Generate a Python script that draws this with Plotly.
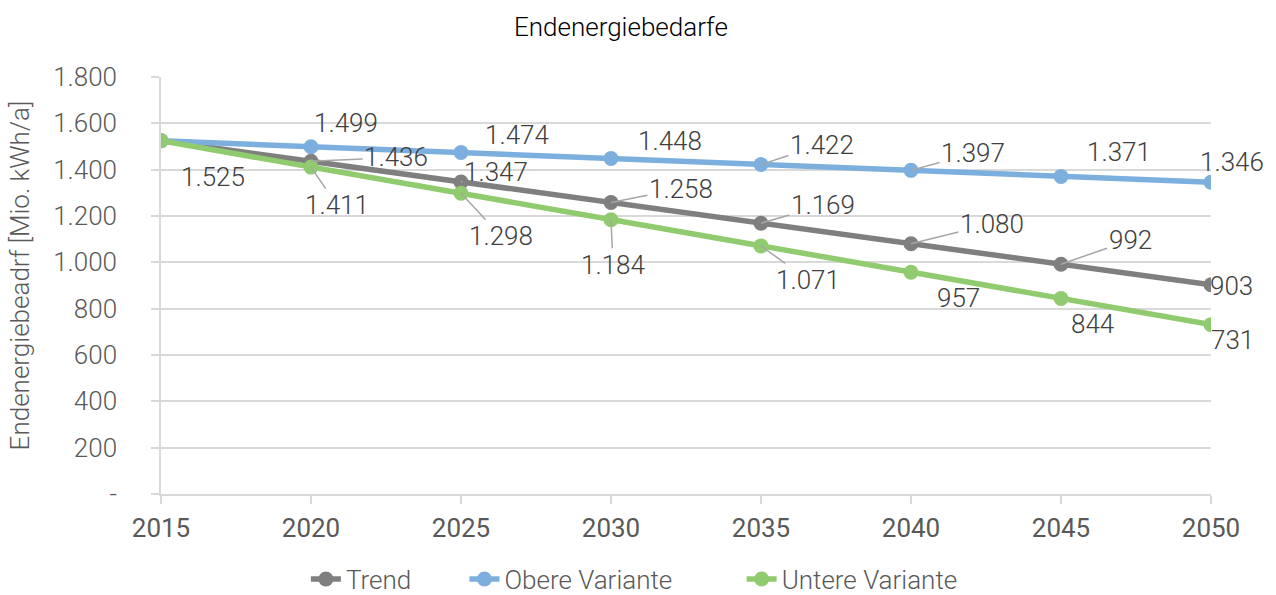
import plotly.graph_objects as go

years = ['2015', '2020', '2025', '2030', '2035', '2040', '2045', '2050']
trend = [1525, 1436, 1347, 1258, 1169, 1080, 992, 903]
obere = [1525, 1499, 1474, 1448, 1422, 1397, 1371, 1346]
untere = [1525, 1411, 1298, 1184, 1071, 957, 844, 731]
y_ticks = [0, 200, 400, 600, 800, 1000, 1200, 1400, 1600, 1800]
y_ticktext = ['-' if v == 0 else f'{v:,}'.replace(',', '.') for v in y_ticks]

names = ['Trend', 'Obere Variante', 'Untere Variante']
colors = ['#7f7f7f', '#7cafdd', '#91cb6f']
legend_x = [0.138, 0.289, 0.553]

# label offsets in px (dx, dy, leader line?) — None means no label
label_pos = {
    'Trend': [(52, 36, False), (85, -4, True), (35, -10, True), (70, -14, True),
              (62, -18, True), (81, -20, True), (69, -24, True), (20, 1, False)],
    'Obere Variante': [None, (35, -24, False), (56, -18, False), (59, -18, False),
                       (61, -20, True), (62, -17, True), (58, -24, False), (21, -20, False)],
    'Untere Variante': [None, (26, 38, True), (40, 43, True), (2, 45, True),
                        (47, 34, True), (47, 26, False), (31, 26, False), (21, 15, False)],
}

FONT = 'Roboto'
FS = 26

fig = go.Figure()
series = [trend, obere, untere]
legend_ids = ['legend', 'legend2', 'legend3']
for name, vals, col, lg in zip(names, series, colors, legend_ids):
    fig.add_trace(go.Scatter(x=years, y=vals, name=name, mode='lines+markers',
                             line=dict(color=col, width=5.5),
                             marker=dict(color=col, size=15), legend=lg))

annotations = []
for name, vals in zip(names, series):
    for i, (v, pos) in enumerate(zip(vals, label_pos[name])):
        if pos is None:
            continue
        dx, dy, leader = pos
        txt = f'{v:,}'.replace(',', '.')
        a = dict(x=i, y=v, xref='x', yref='y', text=txt,
                 font=dict(family=FONT, size=FS, color='#404040', weight=300))
        if leader:
            a.update(showarrow=True, ax=dx, ay=dy, arrowhead=0,
                     arrowwidth=1.5, arrowcolor='#a6a6a6')
        else:
            a.update(showarrow=False, xshift=dx, yshift=-dy)
        annotations.append(a)

annotations.append(dict(text='Endenergiebeadrf [Mio. kWh/a]', xref='paper', yref='paper',
                        x=-0.134, y=0.525, textangle=-90, showarrow=False,
                        xanchor='center', yanchor='middle',
                        font=dict(family=FONT, size=FS, color='#595959', weight=300)))

legend_style = dict(orientation='h', xanchor='left', y=-0.204, yanchor='middle',
                    font=dict(family=FONT, size=FS, color='#595959', weight=300),
                    bgcolor='rgba(0,0,0,0)')

fig.update_layout(
    width=1276, height=595,
    margin=dict(l=161, r=65, t=77, b=101, autoexpand=False),
    paper_bgcolor='white', plot_bgcolor='white',
    font=dict(family=FONT, color='#595959'),
    title=dict(text='Endenergiebedarfe', x=0.438, xref='paper', xanchor='center',
               y=1 - 27 / 595, yref='container', yanchor='middle',
               font=dict(family=FONT, size=26, color='#000000', weight=300)),
    legend=dict(x=legend_x[0], **legend_style),
    legend2=dict(x=legend_x[1], **legend_style),
    legend3=dict(x=legend_x[2], **legend_style),
    annotations=annotations,
    showlegend=True,
)
fig.update_xaxes(type='category', range=[0, 7], showgrid=False,
                 showline=True, linecolor='#d9d9d9', linewidth=1.5,
                 ticks='outside', ticklen=8, tickcolor='#d9d9d9', tickwidth=1.5,
                 tickfont=dict(family=FONT, size=FS, color='#595959'),
                 ticklabelstandoff=2, zeroline=False)
fig.update_yaxes(range=[0, 1800], tickvals=y_ticks, ticktext=y_ticktext,
                 showgrid=True, gridcolor='#d9d9d9', gridwidth=1.5,
                 showline=True, linecolor='#d9d9d9', linewidth=1.5,
                 ticks='outside', ticklen=8, tickcolor='#d9d9d9', tickwidth=1.5,
                 tickfont=dict(family=FONT, size=FS, color='#595959', weight=300),
                 ticklabelstandoff=29, zeroline=False)

fig.write_html('out.html', config={'displayModeBar': False},
               post_script="document.body.style.margin='0';")
